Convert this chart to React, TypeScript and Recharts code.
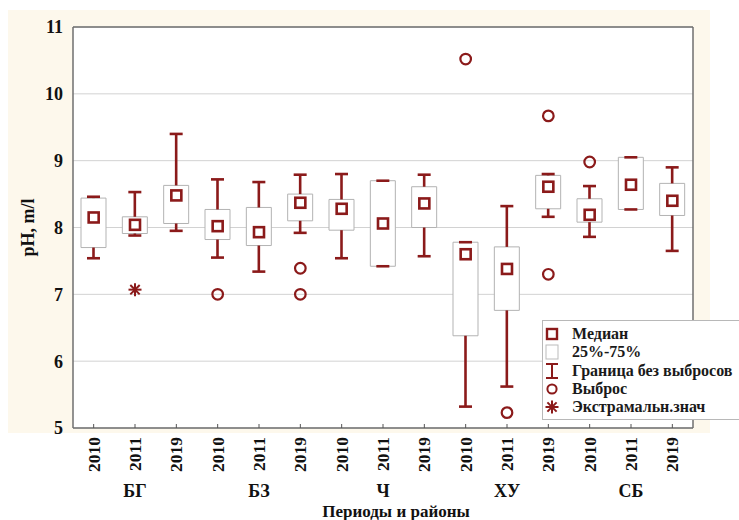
import { ComposedChart, Bar, Scatter, XAxis, YAxis, CartesianGrid, Legend, Label } from 'recharts';

const regions = ['БГ', 'БЗ', 'Ч', 'ХУ', 'СБ'];
const years = ['2010', '2011', '2019'];

// one value per box, left to right: БГ 2010, БГ 2011, БГ 2019, БЗ 2010 ...
const medians = [8.15, 8.04, 8.48, 8.02, 7.93, 8.37, 8.28, 8.06, 8.36, 7.6, 7.38, 8.61, 8.19, 8.64, 8.4];
const q25 = [7.7, 7.91, 8.06, 7.82, 7.73, 8.1, 7.96, 7.42, 8.0, 6.38, 6.76, 8.28, 8.08, 8.27, 8.18];
const q75 = [8.44, 8.16, 8.63, 8.27, 8.3, 8.5, 8.42, 8.7, 8.61, 7.78, 7.71, 8.78, 8.43, 9.05, 8.66];
const whiskerLow = [7.54, 7.88, 7.95, 7.55, 7.34, 7.92, 7.54, 7.42, 7.57, 5.32, 5.62, 8.16, 7.86, 8.27, 7.65];
const whiskerHigh = [8.46, 8.53, 9.4, 8.72, 8.68, 8.79, 8.8, 8.7, 8.79, 7.78, 8.32, 8.8, 8.62, 9.05, 8.9];

// [box index, value]
const outliers = [[3, 7.0], [5, 7.39], [5, 7.0], [9, 10.52], [10, 5.23], [11, 9.67], [11, 7.3], [12, 8.98]];
const extremes = [[1, 7.07]];

const yTicks = [5, 6, 7, 8, 9, 10, 11];

const legendItems = ['Медиан', '25%-75%', 'Граница без выбросов', 'Выброс', 'Экстрамальн.знач'];

const MAROON = '#8b1a1a';
const FONT = '"Liberation Serif", "Times New Roman", serif';

const data = medians.map((med, i) => {
  const outs = outliers.filter((o) => o[0] === i).map((o) => o[1]);
  const ext = extremes.find((e) => e[0] === i);
  return {
    key: `${regions[Math.floor(i / 3)]}-${years[i % 3]}`,
    med,
    q1: q25[i],
    q3: q75[i],
    lo: whiskerLow[i],
    hi: whiskerHigh[i],
    out1: outs[0] ?? null,
    out2: outs[1] ?? null,
    ext: ext ? ext[1] : null,
  };
});

const UpperWhisker = (props: any) => {
  const { x, y, width, height } = props;
  const cx = x + width / 2;
  const top = Math.min(y, y + height);
  const bottom = Math.max(y, y + height);
  return (
    <g stroke={MAROON} strokeWidth={2.6}>
      <line x1={cx} y1={top} x2={cx} y2={bottom} />
      <line x1={x} y1={top} x2={x + width} y2={top} />
    </g>
  );
};

const LowerWhisker = (props: any) => {
  const { x, y, width, height } = props;
  const cx = x + width / 2;
  const top = Math.min(y, y + height);
  const bottom = Math.max(y, y + height);
  return (
    <g stroke={MAROON} strokeWidth={2.6}>
      <line x1={cx} y1={top} x2={cx} y2={bottom} />
      <line x1={x} y1={bottom} x2={x + width} y2={bottom} />
    </g>
  );
};

const MedianSquare = (props: any) => {
  const { cx, cy } = props;
  if (cx == null || cy == null || isNaN(cy)) return <g />;
  return <rect x={cx - 5} y={cy - 5} width={10} height={10} fill="none" stroke={MAROON} strokeWidth={2.6} />;
};

const outlierShape = (field: string) => (props: any) => {
  const { cx, cy, payload } = props;
  if (payload == null || payload[field] == null) return <g />;
  return <circle cx={cx} cy={cy} r={5.3} fill="none" stroke={MAROON} strokeWidth={2.2} />;
};

const ExtremeStar = (props: any) => {
  const { cx, cy, payload } = props;
  if (payload == null || payload.ext == null) return <g />;
  const a = 6.5;
  const d = a * 0.72;
  return (
    <g stroke={MAROON} strokeWidth={2}>
      <line x1={cx} y1={cy - a} x2={cx} y2={cy + a} />
      <line x1={cx - a} y1={cy} x2={cx + a} y2={cy} />
      <line x1={cx - d} y1={cy - d} x2={cx + d} y2={cy + d} />
      <line x1={cx - d} y1={cy + d} x2={cx + d} y2={cy - d} />
    </g>
  );
};

const YearTick = (props: any) => {
  const { x, y, payload, index } = props;
  const [region, year] = String(payload.value).split('-');
  return (
    <g>
      <line x1={x} y1={y} x2={x} y2={y - 4} stroke="#555" strokeWidth={1} />
      <text
        x={x}
        y={y + 9}
        transform={`rotate(-90, ${x}, ${y + 9})`}
        textAnchor="end"
        dominantBaseline="central"
        fontFamily={FONT}
        fontWeight="bold"
        fontSize={17.5}
        fill="#111"
      >
        {year}
      </text>
      {index % 3 === 1 && (
        <text x={x} y={y + 69} textAnchor="middle" fontFamily={FONT} fontWeight="bold" fontSize={18} fill="#111">
          {region}
        </text>
      )}
    </g>
  );
};

const legendIcons = [
  <rect x={3} y={3} width={10} height={10} fill="none" stroke={MAROON} strokeWidth={2.4} />,
  <rect x={2} y={1} width={12} height={14} fill="#fff" stroke="#bbb" strokeWidth={1} />,
  <g stroke={MAROON} strokeWidth={2}>
    <line x1={8} y1={1} x2={8} y2={15} />
    <line x1={2} y1={1} x2={14} y2={1} />
    <line x1={2} y1={15} x2={14} y2={15} />
  </g>,
  <circle cx={8} cy={8} r={4.6} fill="none" stroke={MAROON} strokeWidth={2} />,
  <g stroke={MAROON} strokeWidth={2}>
    <line x1={8} y1={1.5} x2={8} y2={14.5} />
    <line x1={1.5} y1={8} x2={14.5} y2={8} />
    <line x1={3.4} y1={3.4} x2={12.6} y2={12.6} />
    <line x1={3.4} y1={12.6} x2={12.6} y2={3.4} />
  </g>,
];

const BoxLegend = () => (
  <div
    style={{
      width: 200,
      height: 100,
      boxSizing: 'border-box',
      background: '#fff',
      border: '1px solid #b8b8b8',
      paddingTop: 4,
      paddingLeft: 1,
      fontFamily: FONT,
      fontWeight: 'bold',
      fontSize: 16,
      color: '#1a1a1a',
    }}
  >
    {legendItems.map((name, i) => (
      <div key={name} style={{ display: 'flex', alignItems: 'center', height: 18.3 }}>
        <svg width={16} height={16} style={{ marginRight: 12, flexShrink: 0 }}>
          {legendIcons[i]}
        </svg>
        <span style={{ whiteSpace: 'nowrap' }}>{name}</span>
      </div>
    ))}
  </div>
);

const XTitle = (props: any) => {
  const { viewBox } = props;
  return (
    <text
      x={viewBox.x + viewBox.width / 2 + 13}
      y={viewBox.y + viewBox.height - 3}
      textAnchor="middle"
      fontFamily={FONT}
      fontWeight="bold"
      fontSize={17}
      fill="#111"
    >
      Периоды и районы
    </text>
  );
};

const YTitle = (props: any) => {
  const { viewBox } = props;
  const cx = viewBox.x + 28;
  const cy = viewBox.y + viewBox.height / 2;
  return (
    <text
      x={cx}
      y={cy}
      transform={`rotate(-90, ${cx}, ${cy})`}
      textAnchor="middle"
      dominantBaseline="central"
      fontFamily={FONT}
      fontWeight="bold"
      fontSize={18}
      fill="#111"
    >
      pH, m/l
    </text>
  );
};

export default function App() {
  return (
    <div style={{ position: 'absolute', left: 0, top: 0, width: 739, height: 520, background: '#fff', overflow: 'hidden' }}>
      <div style={{ position: 'absolute', left: 8, top: 10, width: 702, height: 423, background: '#fdf8ec' }} />
      <div style={{ position: 'absolute', left: 0, top: 0 }}>
        <ComposedChart width={739} height={520} data={data} margin={{ top: 27, right: 46, bottom: 0, left: 0 }}>
          <CartesianGrid yAxisId="l" xAxisId="x" vertical={false} stroke="#d2d2d2" fill="#fff" />
          <XAxis
            xAxisId="x"
            dataKey="key"
            height={92}
            interval={0}
            tickLine={false}
            tickSize={0}
            tickMargin={0}
            axisLine={{ stroke: '#6f6f6f', strokeWidth: 1.5 }}
            tick={(p: any) => <YearTick {...p} />}
          >
            <Label content={XTitle} />
          </XAxis>
          <XAxis
            xAxisId="top"
            dataKey="key"
            orientation="top"
            mirror
            interval={0}
            tick={false}
            tickSize={4}
            tickLine={{ stroke: '#555' }}
            axisLine={{ stroke: '#6f6f6f', strokeWidth: 1.5 }}
          />
          <XAxis xAxisId="whisk" dataKey="key" orientation="top" height={0} hide />
          <YAxis
            yAxisId="l"
            domain={[5, 11]}
            ticks={yTicks}
            width={73}
            tickLine={false}
            tickSize={0}
            tickMargin={10}
            axisLine={{ stroke: '#6f6f6f', strokeWidth: 1.5 }}
            tick={{ fontSize: 18, fontWeight: 'bold', fontFamily: FONT, fill: '#111' }}
          >
            <Label content={YTitle} />
          </YAxis>
          <YAxis
            yAxisId="r"
            orientation="right"
            mirror
            domain={[5, 11]}
            ticks={yTicks}
            tick={false}
            tickSize={4}
            tickLine={{ stroke: '#555' }}
            axisLine={{ stroke: '#6f6f6f', strokeWidth: 1.5 }}
          />
          <Bar
            xAxisId="x"
            yAxisId="l"
            dataKey={(d: any) => [d.q1, d.q3]}
            barSize={25}
            fill="#fff"
            stroke="#b3b3b3"
            strokeWidth={1}
            isAnimationActive={false}
          />
          <Bar
            xAxisId="top"
            yAxisId="l"
            dataKey={(d: any) => [d.q3, d.hi]}
            barSize={13}
            shape={(p: any) => <UpperWhisker {...p} />}
            isAnimationActive={false}
          />
          <Bar
            xAxisId="whisk"
            yAxisId="l"
            dataKey={(d: any) => [d.lo, d.q1]}
            barSize={13}
            shape={(p: any) => <LowerWhisker {...p} />}
            isAnimationActive={false}
          />
          <Scatter xAxisId="x" yAxisId="l" dataKey="med" shape={(p: any) => <MedianSquare {...p} />} isAnimationActive={false} />
          <Scatter xAxisId="x" yAxisId="l" dataKey="out1" shape={outlierShape('out1')} isAnimationActive={false} />
          <Scatter xAxisId="x" yAxisId="l" dataKey="out2" shape={outlierShape('out2')} isAnimationActive={false} />
          <Scatter xAxisId="x" yAxisId="l" dataKey="ext" shape={(p: any) => <ExtremeStar {...p} />} isAnimationActive={false} />
          <Legend
            layout="vertical"
            align="center"
            verticalAlign="middle"
            content={() => <BoxLegend />}
            wrapperStyle={{ left: 542, top: 320, width: 200, height: 100 }}
          />
        </ComposedChart>
      </div>
    </div>
  );
}
